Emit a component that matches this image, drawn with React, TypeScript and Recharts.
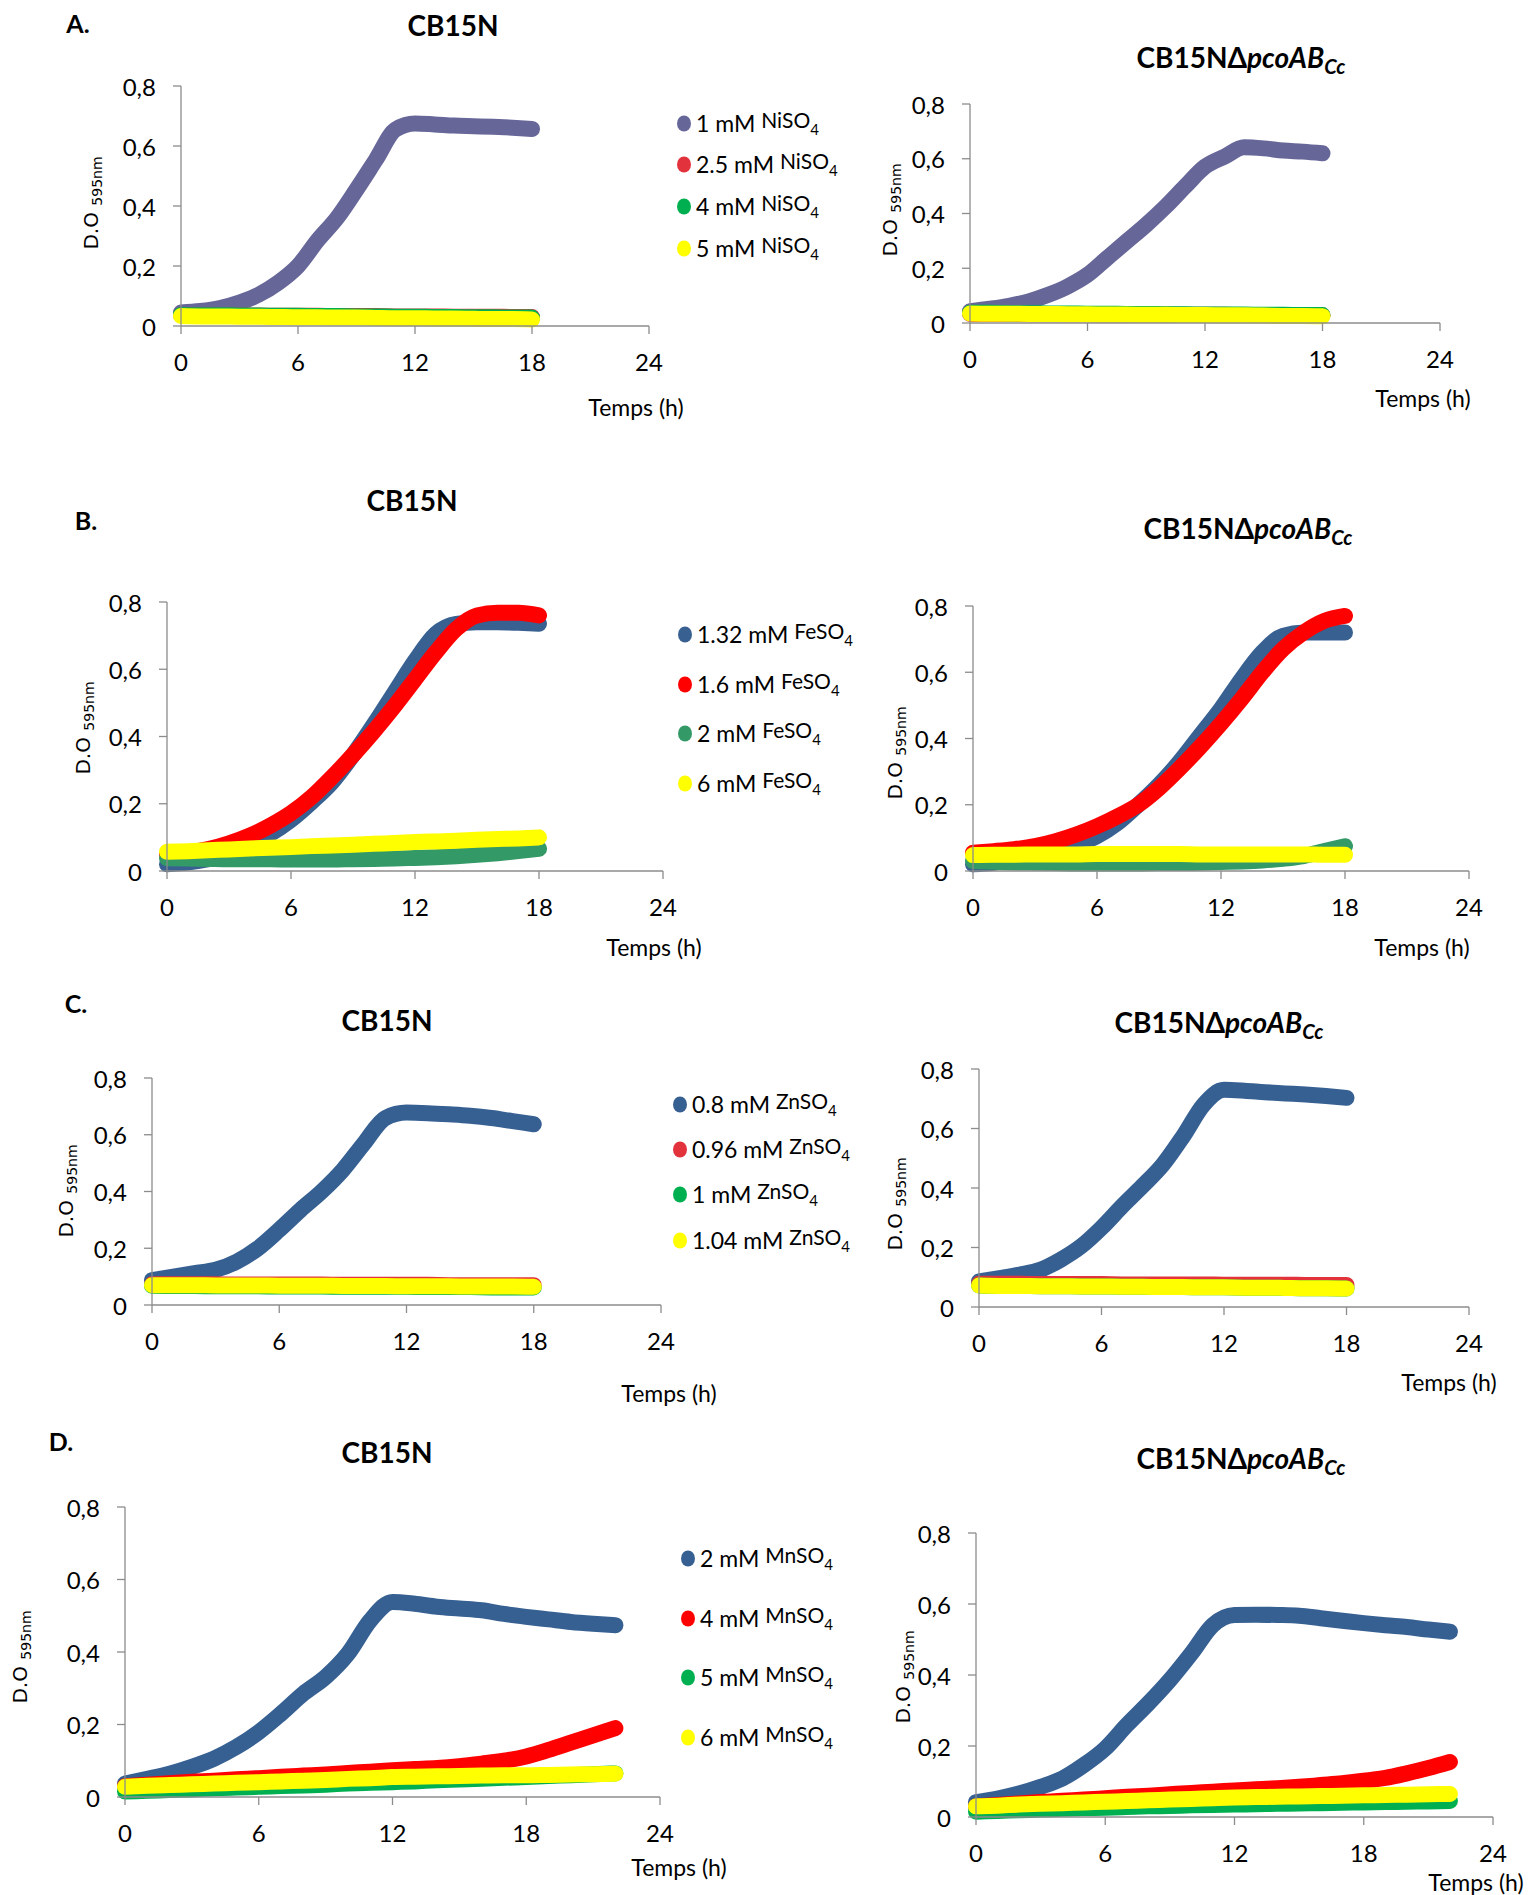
import React from "react";
import { LineChart, Line, XAxis, YAxis } from "recharts";

const FONT = "'Liberation Sans Narrow', 'Arial Narrow', Lato, sans-serif";
const LABEL_FONT = "'DejaVu Sans', Verdana, sans-serif";
const AXIS_COLOR = "#8c8c8c";

const HOURS_18 = [0, 1, 2, 3, 4, 5, 6, 7, 8, 9, 10, 11, 12, 13, 14, 15, 16, 17, 18];
const HOURS_22 = [0, 1, 2, 3, 4, 5, 6, 7, 8, 9, 10, 11, 12, 13, 14, 15, 16, 17, 18, 19, 20, 21, 22];
const X_TICKS = [0, 6, 12, 18, 24];
const Y_TICKS = [0, 0.2, 0.4, 0.6, 0.8];

// A. NiSO4
const niLabels = ["1 mM", "2.5 mM", "4 mM", "5 mM"];
const niColors = ["#666699", "#e2323c", "#00b050", "#ffff00"];
const niWt1 = [0.045, 0.05, 0.06, 0.078, 0.105, 0.145, 0.2, 0.285, 0.36, 0.455, 0.555, 0.655, 0.675, 0.672, 0.668, 0.666, 0.664, 0.661, 0.657];
const niWt25 = [0.036, 0.036, 0.035, 0.035, 0.035, 0.034, 0.034, 0.034, 0.033, 0.033, 0.033, 0.032, 0.032, 0.032, 0.031, 0.031, 0.031, 0.03, 0.03];
const niWt4 = [0.037, 0.036, 0.036, 0.035, 0.035, 0.034, 0.034, 0.033, 0.033, 0.032, 0.032, 0.031, 0.031, 0.03, 0.03, 0.029, 0.029, 0.028, 0.028];
const niWt5 = [0.033, 0.032, 0.032, 0.031, 0.031, 0.03, 0.029, 0.029, 0.028, 0.028, 0.027, 0.026, 0.026, 0.025, 0.025, 0.024, 0.023, 0.023, 0.022];
const niMut1 = [0.043, 0.052, 0.063, 0.079, 0.103, 0.134, 0.176, 0.237, 0.298, 0.359, 0.426, 0.5, 0.571, 0.608, 0.642, 0.638, 0.63, 0.626, 0.62];
const niMut25 = [0.033, 0.033, 0.033, 0.032, 0.032, 0.032, 0.032, 0.031, 0.031, 0.031, 0.031, 0.03, 0.03, 0.03, 0.029, 0.029, 0.029, 0.028, 0.028];
const niMut4 = [0.037, 0.037, 0.036, 0.036, 0.035, 0.035, 0.034, 0.034, 0.033, 0.033, 0.032, 0.032, 0.031, 0.031, 0.031, 0.03, 0.03, 0.029, 0.029];
const niMut5 = [0.035, 0.034, 0.034, 0.033, 0.033, 0.032, 0.032, 0.031, 0.031, 0.03, 0.03, 0.029, 0.029, 0.028, 0.028, 0.027, 0.026, 0.026, 0.025];

// B. FeSO4
const feLabels = ["1.32 mM", "1.6 mM", "2 mM", "6 mM"];
const feColors = ["#386192", "#ff0000", "#339966", "#ffff00"];
const feWt132 = [0.02, 0.025, 0.035, 0.052, 0.077, 0.11, 0.152, 0.205, 0.265, 0.345, 0.435, 0.53, 0.625, 0.705, 0.735, 0.74, 0.74, 0.738, 0.735];
const feWt16 = [0.05, 0.055, 0.065, 0.082, 0.105, 0.135, 0.172, 0.22, 0.28, 0.345, 0.415, 0.49, 0.57, 0.65, 0.72, 0.76, 0.768, 0.768, 0.76];
const feWt2 = [0.038, 0.037, 0.036, 0.035, 0.035, 0.035, 0.034, 0.034, 0.034, 0.035, 0.036, 0.037, 0.039, 0.041, 0.044, 0.048, 0.053, 0.059, 0.066];
const feWt6 = [0.057, 0.059, 0.062, 0.064, 0.067, 0.069, 0.071, 0.074, 0.076, 0.078, 0.081, 0.083, 0.086, 0.088, 0.09, 0.093, 0.095, 0.097, 0.1];
const feMut132 = [0.02, 0.025, 0.035, 0.045, 0.06, 0.08, 0.105, 0.145, 0.2, 0.26, 0.33, 0.41, 0.49, 0.58, 0.66, 0.71, 0.72, 0.72, 0.72];
const feMut16 = [0.055, 0.06, 0.066, 0.075, 0.09, 0.11, 0.135, 0.165, 0.2, 0.25, 0.31, 0.375, 0.445, 0.52, 0.6, 0.67, 0.72, 0.755, 0.77];
const feMut2 = [0.03, 0.028, 0.026, 0.025, 0.024, 0.023, 0.023, 0.023, 0.023, 0.024, 0.024, 0.025, 0.027, 0.029, 0.032, 0.037, 0.045, 0.06, 0.075];
const feMut6 = [0.048, 0.049, 0.049, 0.05, 0.05, 0.05, 0.051, 0.051, 0.051, 0.051, 0.051, 0.05, 0.05, 0.05, 0.05, 0.05, 0.05, 0.049, 0.049];

// C. ZnSO4
const znLabels = ["0.8 mM", "0.96 mM", "1 mM", "1.04 mM"];
const znColors = ["#376092", "#e2323c", "#00b050", "#ffff00"];
const znWt08 = [0.088, 0.1, 0.112, 0.124, 0.153, 0.2, 0.265, 0.335, 0.4, 0.476, 0.57, 0.659, 0.678, 0.676, 0.672, 0.667, 0.659, 0.648, 0.637];
const znWt096 = [0.073, 0.073, 0.073, 0.073, 0.072, 0.072, 0.072, 0.072, 0.072, 0.071, 0.071, 0.071, 0.071, 0.071, 0.07, 0.07, 0.07, 0.07, 0.07];
const znWt1 = [0.068, 0.067, 0.067, 0.066, 0.066, 0.066, 0.065, 0.065, 0.065, 0.064, 0.064, 0.064, 0.064, 0.063, 0.063, 0.063, 0.062, 0.062, 0.062];
const znWt104 = [0.07, 0.07, 0.07, 0.069, 0.069, 0.069, 0.068, 0.068, 0.068, 0.067, 0.067, 0.067, 0.066, 0.066, 0.066, 0.065, 0.065, 0.065, 0.064];
const znMut08 = [0.086, 0.097, 0.109, 0.125, 0.159, 0.204, 0.266, 0.338, 0.406, 0.478, 0.574, 0.68, 0.73, 0.727, 0.722, 0.718, 0.714, 0.709, 0.703];
const znMut096 = [0.078, 0.078, 0.078, 0.077, 0.077, 0.077, 0.077, 0.076, 0.076, 0.076, 0.076, 0.076, 0.075, 0.075, 0.075, 0.075, 0.074, 0.074, 0.074];
const znMut1 = [0.072, 0.071, 0.071, 0.07, 0.07, 0.069, 0.069, 0.068, 0.068, 0.067, 0.067, 0.066, 0.066, 0.065, 0.065, 0.064, 0.063, 0.063, 0.062];
const znMut104 = [0.072, 0.071, 0.071, 0.07, 0.07, 0.069, 0.069, 0.068, 0.068, 0.067, 0.067, 0.066, 0.066, 0.065, 0.065, 0.064, 0.063, 0.063, 0.062];

// D. MnSO4
const mnLabels = ["2 mM", "4 mM", "5 mM", "6 mM"];
const mnColors = ["#376092", "#ff0000", "#00b050", "#ffff00"];
const mnWt2 = [0.037, 0.05, 0.064, 0.083, 0.106, 0.138, 0.179, 0.23, 0.285, 0.331, 0.395, 0.487, 0.538, 0.533, 0.525, 0.52, 0.515, 0.505, 0.497, 0.49, 0.483, 0.478, 0.474];
const mnWt4 = [0.03, 0.034, 0.038, 0.042, 0.045, 0.049, 0.052, 0.056, 0.059, 0.062, 0.066, 0.07, 0.074, 0.077, 0.08, 0.085, 0.092, 0.1, 0.112, 0.13, 0.15, 0.17, 0.19];
const mnWt5 = [0.015, 0.017, 0.019, 0.021, 0.024, 0.026, 0.028, 0.03, 0.032, 0.034, 0.037, 0.039, 0.041, 0.043, 0.046, 0.048, 0.05, 0.053, 0.055, 0.058, 0.06, 0.063, 0.065];
const mnWt6 = [0.028, 0.031, 0.033, 0.035, 0.037, 0.039, 0.041, 0.043, 0.045, 0.047, 0.05, 0.052, 0.055, 0.056, 0.057, 0.058, 0.059, 0.06, 0.06, 0.061, 0.062, 0.063, 0.064];
const mnMut2 = [0.042, 0.052, 0.066, 0.085, 0.108, 0.146, 0.193, 0.259, 0.32, 0.386, 0.461, 0.541, 0.569, 0.57, 0.569, 0.567, 0.56, 0.553, 0.546, 0.54, 0.535, 0.528, 0.522];
const mnMut4 = [0.03, 0.034, 0.038, 0.042, 0.046, 0.049, 0.053, 0.057, 0.06, 0.064, 0.068, 0.071, 0.075, 0.078, 0.081, 0.085, 0.09, 0.095, 0.102, 0.11, 0.123, 0.138, 0.155];
const mnMut5 = [0.015, 0.017, 0.019, 0.021, 0.023, 0.025, 0.026, 0.028, 0.03, 0.031, 0.033, 0.034, 0.035, 0.036, 0.037, 0.038, 0.039, 0.04, 0.041, 0.042, 0.043, 0.044, 0.045];
const mnMut6 = [0.03, 0.032, 0.035, 0.037, 0.039, 0.041, 0.043, 0.045, 0.047, 0.049, 0.051, 0.053, 0.055, 0.056, 0.057, 0.058, 0.059, 0.06, 0.061, 0.062, 0.063, 0.064, 0.065];

type Box = { x0: number; x24: number; yTop: number; yBot: number };

// room round the plot area for the axes and their labels
const ML = 75;
const MT = 16;
const MR = 28;
const MB = 62;

const fmtY = (v: number) => (v === 0 ? "0" : v.toFixed(1).replace(".", ","));

function XTick({ x, y, payload }: any) {
  return (
    <text x={x} y={y} dy={25} textAnchor="middle" dominantBaseline="central" fontFamily={FONT} fontSize={24} fill="#000">
      {payload.value}
    </text>
  );
}

function YTick({ x, y, payload }: any) {
  return (
    <text x={x} y={y} dx={-15} textAnchor="end" dominantBaseline="central" fontFamily={FONT} fontSize={24} fill="#000">
      {fmtY(payload.value)}
    </text>
  );
}

function GrowthPanel({ box, hours, series, colors }: { box: Box; hours: number[]; series: number[][]; colors: string[] }) {
  const width = box.x24 - box.x0 + ML + MR;
  const height = box.yBot - box.yTop + MT + MB;
  const rows = hours.map((h, i) => {
    const r: Record<string, number> = { h };
    series.forEach((s, k) => {
      r["s" + k] = s[i];
    });
    return r;
  });
  return (
    <div style={{ position: "absolute", left: box.x0 - ML, top: box.yTop - MT }}>
      <LineChart width={width} height={height} data={rows} margin={{ top: MT, right: MR, left: 0, bottom: 0 }}>
        <XAxis
          type="number"
          dataKey="h"
          domain={[0, 24]}
          ticks={X_TICKS}
          height={MB}
          tickSize={8}
          tick={<XTick />}
          stroke={AXIS_COLOR}
          strokeWidth={1.3}
        />
        <YAxis
          type="number"
          domain={[0, 0.8]}
          ticks={Y_TICKS}
          width={ML}
          tickSize={8}
          tick={<YTick />}
          stroke={AXIS_COLOR}
          strokeWidth={1.3}
        />
        {series.map((_, k) => (
          <Line
            key={k}
            type="monotone"
            dataKey={"s" + k}
            stroke={colors[k]}
            strokeWidth={16}
            strokeLinecap="round"
            strokeLinejoin="round"
            dot={false}
            activeDot={false}
            isAnimationActive={false}
          />
        ))}
      </LineChart>
    </div>
  );
}

function At({ x, y, children, style }: { x: number; y: number; children: React.ReactNode; style?: React.CSSProperties }) {
  return (
    <div
      style={{
        position: "absolute",
        left: x,
        top: y,
        transform: "translate(-50%, -50%)",
        whiteSpace: "nowrap",
        lineHeight: 1,
        ...style,
      }}
    >
      {children}
    </div>
  );
}

const titleStyle: React.CSSProperties = { fontFamily: FONT, fontWeight: 700, fontSize: 28 };

function WtTitle({ x, y }: { x: number; y: number }) {
  return (
    <At x={x} y={y} style={titleStyle}>
      CB15N
    </At>
  );
}

function MutTitle({ x, y }: { x: number; y: number }) {
  return (
    <At x={x} y={y} style={titleStyle}>
      CB15NΔ<i>pcoAB</i>
      <i style={{ fontSize: "0.72em", position: "relative", top: "0.3em" }}>Cc</i>
    </At>
  );
}

function YLabel({ x, y }: { x: number; y: number }) {
  return (
    <At x={x} y={y} style={{ fontFamily: LABEL_FONT, fontSize: 20, transform: "translate(-50%, -50%) rotate(-90deg)" }}>
      D.O <span style={{ fontSize: 14, position: "relative", top: 4 }}>595nm</span>
    </At>
  );
}

function TimeLabel({ x, y }: { x: number; y: number }) {
  return (
    <At x={x} y={y} style={{ fontFamily: FONT, fontSize: 23 }}>
      Temps (h)
    </At>
  );
}

function SaltLegend({ x, rows, labels, colors, salt }: { x: number; rows: number[]; labels: string[]; colors: string[]; salt: string }) {
  return (
    <>
      {labels.map((label, i) => (
        <div
          key={label}
          style={{
            position: "absolute",
            left: x - 7,
            top: rows[i],
            transform: "translateY(-50%)",
            display: "flex",
            alignItems: "center",
            whiteSpace: "nowrap",
            fontFamily: FONT,
            fontSize: 23,
            lineHeight: 1,
          }}
        >
          <span style={{ width: 14, height: 16, borderRadius: "50%", background: colors[i], marginRight: 5 }} />
          <span>
            {label}{" "}
            <span style={{ fontSize: 21, position: "relative", top: -4 }}>
              {salt}
              <span style={{ fontSize: 15, position: "relative", top: 7 }}>4</span>
            </span>
          </span>
        </div>
      ))}
    </>
  );
}

export default function App() {
  return (
    <div style={{ position: "absolute", left: 0, top: 0, width: 1536, height: 1895, background: "#fff" }}>
      {/* A. NiSO4 */}
      <At x={78} y={23} style={{ fontFamily: FONT, fontWeight: 700, fontSize: 25 }}>A.</At>
      <WtTitle x={453} y={25} />
      <MutTitle x={1241} y={57} />
      <GrowthPanel box={{ x0: 181, x24: 649, yTop: 86, yBot: 326 }} hours={HOURS_18} series={[niWt1, niWt25, niWt4, niWt5]} colors={niColors} />
      <GrowthPanel box={{ x0: 970, x24: 1440, yTop: 104, yBot: 323 }} hours={HOURS_18} series={[niMut1, niMut25, niMut4, niMut5]} colors={niColors} />
      <YLabel x={91} y={203} />
      <YLabel x={890} y={210} />
      <TimeLabel x={636} y={407} />
      <TimeLabel x={1423} y={398} />
      <SaltLegend x={684} rows={[123, 164, 206, 248]} labels={niLabels} colors={niColors} salt="NiSO" />

      {/* B. FeSO4 */}
      <At x={86} y={520} style={{ fontFamily: FONT, fontWeight: 700, fontSize: 25 }}>B.</At>
      <WtTitle x={412} y={500} />
      <MutTitle x={1248} y={528} />
      <GrowthPanel box={{ x0: 167, x24: 663, yTop: 602, yBot: 871 }} hours={HOURS_18} series={[feWt132, feWt16, feWt2, feWt6]} colors={feColors} />
      <GrowthPanel box={{ x0: 973, x24: 1469, yTop: 606, yBot: 871 }} hours={HOURS_18} series={[feMut132, feMut16, feMut2, feMut6]} colors={feColors} />
      <YLabel x={83} y={728} />
      <YLabel x={895} y={753} />
      <TimeLabel x={654} y={947} />
      <TimeLabel x={1422} y={947} />
      <SaltLegend x={685} rows={[634, 684, 733, 783]} labels={feLabels} colors={feColors} salt="FeSO" />

      {/* C. ZnSO4 */}
      <At x={76} y={1003} style={{ fontFamily: FONT, fontWeight: 700, fontSize: 25 }}>C.</At>
      <WtTitle x={387} y={1020} />
      <MutTitle x={1219} y={1022} />
      <GrowthPanel box={{ x0: 152, x24: 661, yTop: 1078, yBot: 1305 }} hours={HOURS_18} series={[znWt08, znWt096, znWt1, znWt104]} colors={znColors} />
      <GrowthPanel box={{ x0: 979, x24: 1469, yTop: 1069, yBot: 1307 }} hours={HOURS_18} series={[znMut08, znMut096, znMut1, znMut104]} colors={znColors} />
      <YLabel x={66} y={1191} />
      <YLabel x={895} y={1204} />
      <TimeLabel x={669} y={1393} />
      <TimeLabel x={1449} y={1382} />
      <SaltLegend x={680} rows={[1104, 1149, 1194, 1240]} labels={znLabels} colors={znColors} salt="ZnSO" />

      {/* D. MnSO4 */}
      <At x={61} y={1441} style={{ fontFamily: FONT, fontWeight: 700, fontSize: 25 }}>D.</At>
      <WtTitle x={387} y={1452} />
      <MutTitle x={1241} y={1458} />
      <GrowthPanel box={{ x0: 125, x24: 660, yTop: 1507, yBot: 1797 }} hours={HOURS_22} series={[mnWt2, mnWt4, mnWt5, mnWt6]} colors={mnColors} />
      <GrowthPanel box={{ x0: 976, x24: 1493, yTop: 1533, yBot: 1817 }} hours={HOURS_22} series={[mnMut2, mnMut4, mnMut5, mnMut6]} colors={mnColors} />
      <YLabel x={20} y={1657} />
      <YLabel x={903} y={1677} />
      <TimeLabel x={679} y={1867} />
      <TimeLabel x={1476} y={1882} />
      <SaltLegend x={688} rows={[1558, 1618, 1677, 1737]} labels={mnLabels} colors={mnColors} salt="MnSO" />
    </div>
  );
}
